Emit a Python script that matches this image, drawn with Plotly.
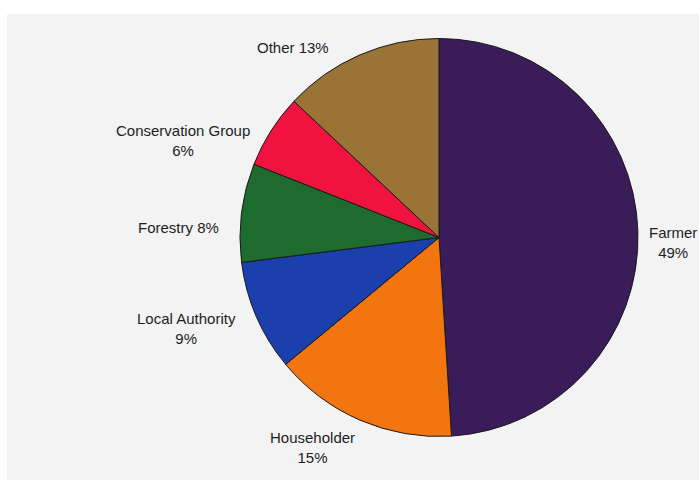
import plotly.graph_objects as go

categories = ["Farmer", "Householder", "Local Authority", "Forestry", "Conservation Group", "Other"]
values = [49, 15, 9, 8, 6, 13]
colors = ["#3a1c58", "#f2750f", "#1c3fae", "#1e6b2e", "#f0123f", "#9a7336"]
label_texts = ["Farmer<br>49%", "Householder<br>15%", "Local Authority<br>9%",
               "Forestry 8%", "Conservation Group<br>6%", "Other 13%"]

W, H = 699, 480
cx, cy, r = 439, 237.5, 199

fig = go.Figure(go.Pie(
    labels=categories,
    values=values,
    sort=False,
    direction="clockwise",
    rotation=0,
    marker=dict(colors=colors, line=dict(color="#1a1a1a", width=1)),
    textinfo="none",
    hoverinfo="label+percent",
    showlegend=False,
    domain=dict(x=[(cx - r) / W, (cx + r) / W], y=[1 - (cy + r) / H, 1 - (cy - r) / H]),
))

# label placement (pixel centres)
label_pos = [(673, 242), (312, 447.5), (186, 328.5), (179, 227), (183, 140.5), (293, 48)]
annotations = []
for txt, (px, py) in zip(label_texts, label_pos):
    annotations.append(dict(
        text=txt, x=px / W, y=1 - py / H, xref="paper", yref="paper",
        xanchor="center", yanchor="middle", showarrow=False, align="center",
        font=dict(family="Liberation Sans, Arial, sans-serif", size=15, color="#1e1e1e"),
    ))

fig.update_layout(
    width=W, height=H,
    margin=dict(l=0, r=0, t=0, b=0),
    paper_bgcolor="white",
    plot_bgcolor="white",
    annotations=annotations,
    shapes=[dict(type="rect", xref="paper", yref="paper", x0=7 / W, x1=1, y0=0, y1=1 - 14 / H,
                 fillcolor="#f3f3f3", line=dict(width=0), layer="below")],
)

fig.write_html("out.html", config={"displayModeBar": False},
               post_script="document.body.style.margin='0';")
